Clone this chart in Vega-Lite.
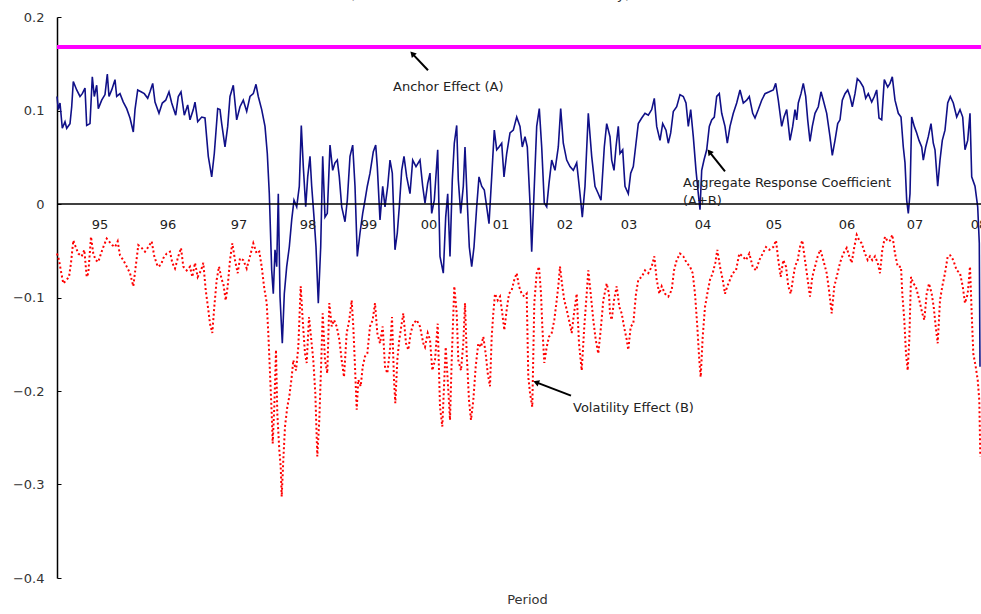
{
"$schema": "https://vega.github.io/schema/vega-lite/v6.json",
"width": 924, "height": 561,
"autosize": {"type": "none"},
"padding": {"left": 57, "top": 17, "right": 0, "bottom": 36},
"background": "white",
"config": {"view": {"stroke": null}, "font": "DejaVu Sans"},
"title": {"text": "(Effects of the Anchor and the Volatility)", "fontSize": 14, "fontWeight": "normal", "font": "DejaVu Sans", "color": "#333", "anchor": "middle", "frame": "group", "baseline": "alphabetic", "offset": 2, "dx": -29, "dy": 4},
"datasets": {
"anchor": [{"t":0,"v":0.168},{"t":924,"v":0.168}],
"zero": [{"t":0,"v":0},{"t":924,"v":0}],
"agg": [{"t":0,"v":0.115},{"t":1.3,"v":0.101},{"t":3,"v":0.108},{"t":5.3,"v":0.081},{"t":8,"v":0.088},{"t":9.7,"v":0.081},{"t":13,"v":0.086},{"t":14.7,"v":0.104},{"t":16.3,"v":0.131},{"t":19.7,"v":0.122},{"t":23,"v":0.115},{"t":25.3,"v":0.118},{"t":28,"v":0.124},{"t":29.7,"v":0.084},{"t":33,"v":0.086},{"t":35.3,"v":0.136},{"t":37.3,"v":0.115},{"t":39.7,"v":0.127},{"t":41.3,"v":0.102},{"t":44.7,"v":0.111},{"t":48,"v":0.117},{"t":50.3,"v":0.139},{"t":52,"v":0.115},{"t":54.7,"v":0.122},{"t":58,"v":0.133},{"t":59.7,"v":0.115},{"t":63,"v":0.118},{"t":66.3,"v":0.109},{"t":69.7,"v":0.102},{"t":73,"v":0.092},{"t":76.3,"v":0.077},{"t":78,"v":0.101},{"t":80.7,"v":0.122},{"t":84,"v":0.12},{"t":87.3,"v":0.118},{"t":90.7,"v":0.113},{"t":93,"v":0.12},{"t":95.7,"v":0.129},{"t":98,"v":0.109},{"t":102,"v":0.097},{"t":105.3,"v":0.108},{"t":108.7,"v":0.111},{"t":112,"v":0.12},{"t":114.7,"v":0.108},{"t":118.7,"v":0.095},{"t":121.3,"v":0.115},{"t":124,"v":0.12},{"t":127.3,"v":0.095},{"t":130.7,"v":0.106},{"t":133,"v":0.09},{"t":136.3,"v":0.101},{"t":138,"v":0.109},{"t":140.7,"v":0.088},{"t":144.7,"v":0.093},{"t":148,"v":0.092},{"t":151.3,"v":0.051},{"t":154.7,"v":0.029},{"t":157.3,"v":0.054},{"t":160.7,"v":0.102},{"t":163,"v":0.101},{"t":164.7,"v":0.086},{"t":168,"v":0.061},{"t":170.7,"v":0.083},{"t":173,"v":0.115},{"t":176.3,"v":0.127},{"t":179.7,"v":0.09},
{"t":183,"v":0.104},{"t":186.3,"v":0.111},{"t":189.7,"v":0.099},{"t":193,"v":0.115},{"t":196.3,"v":0.118},{"t":199,"v":0.128},{"t":201.3,"v":0.115},{"t":204.7,"v":0.101},{"t":208,"v":0.083},{"t":210.3,"v":0.054},{"t":212.3,"v":0.011},{"t":214.7,"v":-0.071},{"t":216.3,"v":-0.096},{"t":218,"v":-0.049},{"t":219.7,"v":-0.067},{"t":221.3,"v":0.011},{"t":223,"v":-0.099},{"t":225.3,"v":-0.149},{"t":227.3,"v":-0.096},{"t":229.7,"v":-0.067},{"t":232.3,"v":-0.046},{"t":234.7,"v":-0.017},{"t":237,"v":0.004},{"t":239.7,"v":-0.003},{"t":242.3,"v":0.019},{"t":244.3,"v":0.084},{"t":246.3,"v":0.04},{"t":248.7,"v":-0.003},{"t":250.7,"v":0.029},{"t":253,"v":0.051},{"t":254.7,"v":0.019},{"t":257,"v":-0.014},{"t":259,"v":-0.046},{"t":261.3,"v":-0.106},{"t":263.7,"v":-0.046},{"t":265.7,"v":0.051},{"t":268,"v":-0.014},{"t":270.3,"v":-0.01},{"t":273,"v":0.063},{"t":275.7,"v":0.036},{"t":278,"v":0.044},{"t":280.3,"v":0.047},{"t":282.3,"v":0.029},{"t":284.7,"v":-0.003},{"t":288,"v":-0.019},{"t":290.3,"v":0.004},{"t":293,"v":0.051},{"t":295.7,"v":0.063},{"t":298,"v":0.019},{"t":300.3,"v":-0.056},{"t":303,"v":-0.031},{"t":305.7,"v":-0.01},{"t":308,"v":0.004},{"t":310.3,"v":0.019},{"t":313,"v":0.033},{"t":316.3,"v":0.056},{"t":318.7,"v":0.063},{"t":320.3,"v":0.04},{"t":323,"v":-0.017},{"t":325.7,"v":0.019},{"t":328,"v":-0.003},{"t":330.7,"v":0.019},{"t":333,"v":0.047},{"t":335.3,"v":0.033},{"t":338,"v":-0.049},{"t":340.3,"v":-0.031},{"t":342.3,"v":-0.003},{"t":344.7,"v":0.036},{"t":347,"v":0.051},{"t":349.7,"v":0.029},{"t":353,"v":0.011},{"t":355.7,"v":0.047},{"t":359,"v":0.04},{"t":363,"v":0.047},{"t":365.7,"v":0.019},
{"t":368,"v":0.001},{"t":370.7,"v":0.022},{"t":373,"v":0.033},{"t":374.7,"v":-0.01},{"t":377.3,"v":0.004},{"t":380.7,"v":0.058},{"t":383,"v":-0.056},{"t":386.3,"v":-0.074},{"t":388.7,"v":-0.014},{"t":390.7,"v":0.011},{"t":393,"v":-0.056},{"t":395.3,"v":0.026},{"t":397.3,"v":0.065},{"t":399.7,"v":0.084},{"t":401.3,"v":0.026},{"t":403.7,"v":-0.01},{"t":406.3,"v":0.019},{"t":408,"v":0.061},{"t":410.3,"v":0.001},{"t":412.3,"v":-0.046},{"t":414.7,"v":-0.067},{"t":417,"v":-0.046},{"t":419.7,"v":-0.003},{"t":422,"v":0.029},{"t":424.7,"v":0.019},{"t":427.3,"v":0.015},{"t":429.7,"v":-0.003},{"t":432,"v":-0.021},{"t":434.7,"v":0.029},{"t":437.3,"v":0.079},{"t":439.7,"v":0.058},{"t":442,"v":0.061},{"t":444.7,"v":0.065},{"t":447,"v":0.029},{"t":449.7,"v":0.054},{"t":453,"v":0.076},{"t":456.3,"v":0.079},{"t":459.7,"v":0.093},{"t":463,"v":0.083},{"t":465.3,"v":0.061},{"t":468,"v":0.072},{"t":470.3,"v":0.061},{"t":473,"v":0.001},{"t":474.7,"v":-0.051},{"t":477.3,"v":0.019},{"t":479.7,"v":0.083},{"t":482.3,"v":0.102},{"t":484.7,"v":0.061},{"t":487.3,"v":0.001},{"t":489.7,"v":-0.003},{"t":492,"v":0.022},{"t":494.7,"v":0.047},{"t":498,"v":0.036},{"t":501.3,"v":0.061},{"t":503.7,"v":0.102},{"t":506.3,"v":0.065},{"t":509.7,"v":0.047},{"t":513,"v":0.04},{"t":516.3,"v":0.036},{"t":519.7,"v":0.044},{"t":523,"v":0.011},{"t":525.3,"v":-0.014},{"t":528,"v":0.019},{"t":531.3,"v":0.097},{"t":534.7,"v":0.051},{"t":538,"v":0.019},{"t":541.3,"v":0.011},{"t":544,"v":0.004},{"t":547.3,"v":0.061},{"t":549.7,"v":0.086},
{"t":553,"v":0.072},{"t":554.7,"v":0.047},{"t":557,"v":0.036},{"t":559,"v":0.061},{"t":561.3,"v":0.083},{"t":563,"v":0.054},{"t":565.7,"v":0.058},{"t":568,"v":0.019},{"t":571.3,"v":0.011},{"t":573.7,"v":0.033},{"t":576.3,"v":0.04},{"t":579,"v":0.065},{"t":581.3,"v":0.086},{"t":584.7,"v":0.092},{"t":588,"v":0.097},{"t":591.3,"v":0.095},{"t":594.7,"v":0.101},{"t":597.3,"v":0.113},{"t":599.7,"v":0.083},{"t":603,"v":0.068},{"t":605.7,"v":0.086},{"t":609,"v":0.079},{"t":611.3,"v":0.065},{"t":613.7,"v":0.076},{"t":616.3,"v":0.099},{"t":619.7,"v":0.104},{"t":623,"v":0.117},{"t":626.3,"v":0.115},{"t":629,"v":0.108},{"t":631.3,"v":0.083},{"t":633.7,"v":0.101},{"t":636.3,"v":0.072},{"t":639,"v":0.036},{"t":641.3,"v":0.011},{"t":643,"v":-0.006},{"t":644.7,"v":0.036},{"t":647,"v":0.047},{"t":649.7,"v":0.058},{"t":652.3,"v":0.083},{"t":654.7,"v":0.09},{"t":657.3,"v":0.093},{"t":659.7,"v":0.115},{"t":662.3,"v":0.118},{"t":664.7,"v":0.097},{"t":668,"v":0.083},{"t":670.3,"v":0.065},{"t":673,"v":0.083},{"t":676.3,"v":0.097},{"t":679.7,"v":0.108},{"t":683,"v":0.122},{"t":686.3,"v":0.108},{"t":689.7,"v":0.111},{"t":692.3,"v":0.115},{"t":695.7,"v":0.097},{"t":698,"v":0.092},{"t":701.3,"v":0.101},{"t":704.7,"v":0.111},{"t":708,"v":0.118},{"t":712.3,"v":0.12},{"t":716.3,"v":0.122},{"t":718.7,"v":0.129},{"t":721.3,"v":0.111},{"t":724.7,"v":0.083},{"t":727,"v":0.093},{"t":729.7,"v":0.101},{"t":733,"v":0.068},{"t":735.7,"v":0.083},
{"t":738,"v":0.101},{"t":739.7,"v":0.09},{"t":741.3,"v":0.108},{"t":744,"v":0.118},{"t":746.3,"v":0.129},{"t":748.7,"v":0.115},{"t":750.7,"v":0.09},{"t":753,"v":0.067},{"t":755.3,"v":0.083},{"t":758,"v":0.097},{"t":761.3,"v":0.104},{"t":764,"v":0.12},{"t":766.3,"v":0.111},{"t":769.7,"v":0.097},{"t":773,"v":0.072},{"t":775.3,"v":0.052},{"t":778,"v":0.068},{"t":780.7,"v":0.086},{"t":783,"v":0.09},{"t":785.3,"v":0.111},{"t":788,"v":0.118},{"t":790.7,"v":0.122},{"t":793,"v":0.115},{"t":795.3,"v":0.104},{"t":798,"v":0.118},{"t":800.3,"v":0.134},{"t":803,"v":0.131},{"t":806.3,"v":0.125},{"t":808.7,"v":0.113},{"t":811.3,"v":0.118},{"t":814.7,"v":0.109},{"t":817.3,"v":0.115},{"t":819.7,"v":0.122},{"t":822,"v":0.092},{"t":824.7,"v":0.09},{"t":827.3,"v":0.133},{"t":830.7,"v":0.125},{"t":833,"v":0.129},{"t":835.3,"v":0.136},{"t":838,"v":0.111},{"t":841.3,"v":0.097},{"t":844,"v":0.093},{"t":846.3,"v":0.061},{"t":848,"v":0.044},{"t":849.7,"v":0.004},{"t":851.3,"v":-0.01},{"t":853,"v":0.011},{"t":854.7,"v":0.093},{"t":857.3,"v":0.083},{"t":859.7,"v":0.076},{"t":862,"v":0.068},{"t":864.7,"v":0.061},{"t":866.3,"v":0.047},{"t":868.7,"v":0.061},{"t":871.3,"v":0.072},{"t":874,"v":0.086},{"t":876.3,"v":0.065},{"t":878,"v":0.058},{"t":880.7,"v":0.019},{"t":883,"v":0.047},{"t":885.3,"v":0.068},{"t":888,"v":0.079},{"t":890.7,"v":0.108},{"t":893.3,"v":0.115},{"t":896.3,"v":0.108},{"t":899.7,"v":0.093},{"t":903,"v":0.101},{"t":905.7,"v":0.093},{"t":908,"v":0.058},{"t":910.7,"v":0.068},{"t":913,"v":0.097},{"t":914.7,"v":0.029},{"t":918,"v":0.019},{"t":920.7,"v":-0.003},{"t":922.3,"v":-0.042},{"t":923,"v":-0.174}],
"vol": [{"t":0,"v":-0.053},{"t":2,"v":-0.06},{"t":4,"v":-0.072},{"t":6.3,"v":-0.085},{"t":9.7,"v":-0.081},{"t":12,"v":-0.078},{"t":14,"v":-0.063},{"t":16.3,"v":-0.039},{"t":18.7,"v":-0.046},{"t":21.3,"v":-0.053},{"t":24.7,"v":-0.056},{"t":27.3,"v":-0.049},{"t":29.7,"v":-0.078},{"t":31.3,"v":-0.074},{"t":34,"v":-0.035},{"t":36.3,"v":-0.053},{"t":38.7,"v":-0.06},{"t":41.3,"v":-0.062},{"t":44,"v":-0.053},{"t":46.3,"v":-0.046},{"t":49.7,"v":-0.037},{"t":52,"v":-0.04},{"t":55.3,"v":-0.044},{"t":58,"v":-0.046},{"t":60.7,"v":-0.04},{"t":63,"v":-0.055},{"t":66.3,"v":-0.06},{"t":69.7,"v":-0.067},{"t":73,"v":-0.074},{"t":76.3,"v":-0.088},{"t":78.7,"v":-0.067},{"t":81.3,"v":-0.044},{"t":84.7,"v":-0.047},{"t":88,"v":-0.051},{"t":91.3,"v":-0.046},{"t":94.7,"v":-0.04},{"t":97.3,"v":-0.056},{"t":100.7,"v":-0.067},{"t":104,"v":-0.065},{"t":106.3,"v":-0.058},{"t":109.7,"v":-0.053},{"t":113,"v":-0.051},{"t":115.3,"v":-0.063},{"t":118,"v":-0.069},{"t":121.3,"v":-0.056},{"t":124,"v":-0.047},{"t":126.3,"v":-0.067},{"t":129.7,"v":-0.071},{"t":133,"v":-0.067},{"t":135.3,"v":-0.078},{"t":138,"v":-0.063},{"t":140.7,"v":-0.078},{"t":144,"v":-0.071},{"t":146.3,"v":-0.063},{"t":148.7,"v":-0.092},{"t":151.3,"v":-0.113},{"t":153,"v":-0.128},{"t":155.3,"v":-0.138},{"t":157.3,"v":-0.11},{"t":159.7,"v":-0.081},{"t":162,"v":-0.067},{"t":164.7,"v":-0.081},{"t":166.3,"v":-0.085},{"t":168.7,"v":-0.103},{"t":170.7,"v":-0.088},{"t":173,"v":-0.06},{"t":175.3,"v":-0.042},{"t":178,"v":-0.06},{"t":180.7,"v":-0.074},
{"t":183,"v":-0.058},{"t":186.3,"v":-0.06},{"t":189.7,"v":-0.069},{"t":193,"v":-0.056},{"t":196.3,"v":-0.042},{"t":199.7,"v":-0.053},{"t":202.3,"v":-0.051},{"t":204.7,"v":-0.067},{"t":207,"v":-0.088},{"t":209.7,"v":-0.106},{"t":211.3,"v":-0.138},{"t":213,"v":-0.181},{"t":214.7,"v":-0.224},{"t":215.7,"v":-0.256},{"t":217.3,"v":-0.217},{"t":219,"v":-0.156},{"t":220.3,"v":-0.224},{"t":222.3,"v":-0.263},{"t":223.7,"v":-0.281},{"t":224.7,"v":-0.313},{"t":226.3,"v":-0.274},{"t":228,"v":-0.238},{"t":230.3,"v":-0.217},{"t":232.3,"v":-0.206},{"t":234.7,"v":-0.185},{"t":236.3,"v":-0.167},{"t":239,"v":-0.178},{"t":241.3,"v":-0.153},{"t":243.7,"v":-0.088},{"t":245.7,"v":-0.124},{"t":248,"v":-0.16},{"t":249.7,"v":-0.17},{"t":252,"v":-0.121},{"t":254,"v":-0.142},{"t":256.3,"v":-0.167},{"t":258.3,"v":-0.202},{"t":260.3,"v":-0.27},{"t":262.3,"v":-0.231},{"t":264.3,"v":-0.167},{"t":265.7,"v":-0.117},{"t":268,"v":-0.167},{"t":270.3,"v":-0.181},{"t":272.3,"v":-0.106},{"t":274.7,"v":-0.131},{"t":277,"v":-0.124},{"t":279.7,"v":-0.131},{"t":282.3,"v":-0.145},{"t":284.7,"v":-0.167},{"t":287,"v":-0.185},{"t":289.7,"v":-0.138},{"t":292.3,"v":-0.124},{"t":294.7,"v":-0.103},{"t":296.3,"v":-0.131},{"t":298,"v":-0.174},{"t":299.7,"v":-0.22},{"t":301.3,"v":-0.188},{"t":303.7,"v":-0.195},{"t":305.7,"v":-0.174},{"t":308,"v":-0.163},{"t":310.3,"v":-0.16},{"t":313,"v":-0.131},{"t":315.7,"v":-0.124},{"t":318,"v":-0.106},{"t":320.3,"v":-0.138},{"t":323,"v":-0.149},{"t":325.7,"v":-0.131},{"t":328,"v":-0.174},{"t":330.3,"v":-0.181},{"t":333,"v":-0.156},{"t":335,"v":-0.121},{"t":337,"v":-0.188},{"t":338.3,"v":-0.213},{"t":340.3,"v":-0.167},{"t":342.3,"v":-0.145},{"t":344.7,"v":-0.128},{"t":346.3,"v":-0.117},{"t":349,"v":-0.149},{"t":351.3,"v":-0.156},{"t":353.7,"v":-0.138},{"t":356.3,"v":-0.128},{"t":359.7,"v":-0.124},{"t":363,"v":-0.131},{"t":366.3,"v":-0.149},
{"t":368,"v":-0.153},{"t":370.7,"v":-0.138},{"t":373,"v":-0.145},{"t":375.3,"v":-0.178},{"t":378,"v":-0.167},{"t":380.7,"v":-0.128},{"t":383,"v":-0.217},{"t":385.3,"v":-0.238},{"t":387.3,"v":-0.188},{"t":388.7,"v":-0.153},{"t":390.7,"v":-0.188},{"t":393,"v":-0.231},{"t":394.7,"v":-0.167},{"t":397.3,"v":-0.088},{"t":399.7,"v":-0.117},{"t":401.3,"v":-0.167},{"t":404,"v":-0.178},{"t":406.3,"v":-0.149},{"t":408,"v":-0.106},{"t":409.7,"v":-0.16},{"t":412,"v":-0.21},{"t":414,"v":-0.231},{"t":416.3,"v":-0.21},{"t":418.7,"v":-0.174},{"t":421.3,"v":-0.149},{"t":424,"v":-0.153},{"t":426.3,"v":-0.142},{"t":428.7,"v":-0.16},{"t":430.7,"v":-0.181},{"t":433,"v":-0.195},{"t":434.7,"v":-0.142},{"t":436.3,"v":-0.117},{"t":438,"v":-0.096},{"t":440.7,"v":-0.103},{"t":443,"v":-0.099},{"t":445.3,"v":-0.117},{"t":447.3,"v":-0.135},{"t":449.7,"v":-0.113},{"t":452,"v":-0.096},{"t":454.7,"v":-0.092},{"t":457.3,"v":-0.081},{"t":459.7,"v":-0.074},{"t":462,"v":-0.088},{"t":464.7,"v":-0.096},{"t":467.3,"v":-0.099},{"t":469.7,"v":-0.096},{"t":471.3,"v":-0.185},{"t":473,"v":-0.202},{"t":475.3,"v":-0.217},{"t":477.3,"v":-0.106},{"t":479.7,"v":-0.074},{"t":482,"v":-0.067},{"t":484,"v":-0.096},{"t":485.3,"v":-0.131},{"t":487.3,"v":-0.17},{"t":489.7,"v":-0.153},{"t":492,"v":-0.142},{"t":494.7,"v":-0.138},{"t":497.3,"v":-0.124},{"t":499.7,"v":-0.103},{"t":501.3,"v":-0.088},{"t":503,"v":-0.067},{"t":505.3,"v":-0.088},{"t":507.3,"v":-0.103},{"t":509.7,"v":-0.113},{"t":512,"v":-0.124},{"t":514.7,"v":-0.138},{"t":517,"v":-0.117},{"t":519.7,"v":-0.096},{"t":522,"v":-0.149},{"t":524.7,"v":-0.178},{"t":527.3,"v":-0.131},{"t":529.7,"v":-0.096},{"t":531.3,"v":-0.071},{"t":533.7,"v":-0.096},{"t":536.3,"v":-0.124},{"t":538.7,"v":-0.145},{"t":541.3,"v":-0.16},{"t":544,"v":-0.131},{"t":546.3,"v":-0.103},{"t":549.7,"v":-0.085},{"t":552,"v":-0.096},
{"t":553,"v":-0.117},{"t":554.7,"v":-0.124},{"t":557,"v":-0.103},{"t":559.7,"v":-0.088},{"t":562.3,"v":-0.11},{"t":564.7,"v":-0.117},{"t":567,"v":-0.131},{"t":569.7,"v":-0.145},{"t":571.3,"v":-0.156},{"t":573.7,"v":-0.131},{"t":576.3,"v":-0.128},{"t":579,"v":-0.096},{"t":581.3,"v":-0.081},{"t":584.7,"v":-0.078},{"t":588,"v":-0.071},{"t":591.3,"v":-0.074},{"t":594.7,"v":-0.067},{"t":597.3,"v":-0.056},{"t":599.7,"v":-0.081},{"t":602.3,"v":-0.096},{"t":604.7,"v":-0.088},{"t":608,"v":-0.096},{"t":611.3,"v":-0.099},{"t":614.7,"v":-0.092},{"t":617,"v":-0.071},{"t":619.7,"v":-0.06},{"t":623,"v":-0.053},{"t":626.3,"v":-0.056},{"t":629.7,"v":-0.063},{"t":633,"v":-0.067},{"t":635.7,"v":-0.074},{"t":638,"v":-0.096},{"t":640.3,"v":-0.131},{"t":642.3,"v":-0.167},{"t":643.7,"v":-0.185},{"t":645.7,"v":-0.142},{"t":648,"v":-0.11},{"t":650.3,"v":-0.096},{"t":653,"v":-0.081},{"t":655.7,"v":-0.074},{"t":658.3,"v":-0.063},{"t":660.3,"v":-0.049},{"t":663,"v":-0.067},{"t":665.7,"v":-0.081},{"t":668,"v":-0.096},{"t":670.3,"v":-0.088},{"t":673,"v":-0.081},{"t":675.7,"v":-0.074},{"t":679,"v":-0.071},{"t":682.3,"v":-0.053},{"t":685.7,"v":-0.056},{"t":689,"v":-0.06},{"t":692.3,"v":-0.053},{"t":695.7,"v":-0.067},{"t":699,"v":-0.071},{"t":702.3,"v":-0.06},{"t":705.7,"v":-0.053},{"t":709,"v":-0.046},{"t":712.3,"v":-0.049},{"t":716.3,"v":-0.046},{"t":719,"v":-0.039},{"t":721.3,"v":-0.06},{"t":723.7,"v":-0.078},{"t":726.3,"v":-0.06},{"t":729,"v":-0.067},{"t":731.3,"v":-0.088},{"t":733.7,"v":-0.096},{"t":736.3,"v":-0.078},
{"t":738,"v":-0.067},{"t":740.7,"v":-0.06},{"t":743,"v":-0.046},{"t":745.3,"v":-0.039},{"t":748,"v":-0.06},{"t":750.7,"v":-0.081},{"t":753,"v":-0.099},{"t":755.3,"v":-0.078},{"t":758,"v":-0.067},{"t":760.7,"v":-0.056},{"t":763.3,"v":-0.049},{"t":766.3,"v":-0.06},{"t":769.7,"v":-0.074},{"t":772,"v":-0.092},{"t":774.7,"v":-0.117},{"t":777.3,"v":-0.088},{"t":779.7,"v":-0.078},{"t":783,"v":-0.063},{"t":786.3,"v":-0.053},{"t":789.7,"v":-0.047},{"t":792.3,"v":-0.056},{"t":794.7,"v":-0.063},{"t":797.3,"v":-0.046},{"t":799.7,"v":-0.033},{"t":802.3,"v":-0.039},{"t":804.7,"v":-0.042},{"t":808,"v":-0.053},{"t":810.7,"v":-0.06},{"t":813,"v":-0.056},{"t":815.3,"v":-0.06},{"t":818,"v":-0.056},{"t":820.7,"v":-0.063},{"t":823,"v":-0.074},{"t":825.3,"v":-0.049},{"t":828,"v":-0.035},{"t":830.7,"v":-0.04},{"t":833,"v":-0.039},{"t":835.3,"v":-0.033},{"t":838,"v":-0.053},{"t":840.7,"v":-0.067},{"t":844,"v":-0.067},{"t":845.3,"v":-0.096},{"t":847.3,"v":-0.124},{"t":849,"v":-0.16},{"t":850.7,"v":-0.178},{"t":852.3,"v":-0.145},{"t":854,"v":-0.078},{"t":856.3,"v":-0.085},{"t":858.7,"v":-0.088},{"t":860.7,"v":-0.096},{"t":863,"v":-0.106},{"t":865.3,"v":-0.117},{"t":867.3,"v":-0.124},{"t":869.7,"v":-0.096},{"t":872,"v":-0.085},{"t":874.7,"v":-0.096},{"t":876.7,"v":-0.11},{"t":878.7,"v":-0.131},{"t":880.7,"v":-0.149},{"t":883,"v":-0.103},{"t":885.3,"v":-0.088},{"t":888,"v":-0.074},{"t":890.7,"v":-0.056},{"t":893.3,"v":-0.055},{"t":896.3,"v":-0.06},{"t":899.7,"v":-0.071},{"t":903,"v":-0.074},{"t":905.7,"v":-0.088},{"t":908,"v":-0.106},{"t":910.7,"v":-0.096},{"t":913,"v":-0.067},{"t":914.7,"v":-0.117},{"t":916.3,"v":-0.16},{"t":918.7,"v":-0.174},{"t":920.7,"v":-0.188},{"t":922.3,"v":-0.21},{"t":923.3,"v":-0.27}],
"years": [{"t":43,"v":0,"label":"95"},{"t":111,"v":0,"label":"96"},{"t":182,"v":0,"label":"97"},{"t":251,"v":0,"label":"98"},{"t":312,"v":0,"label":"99"},{"t":372,"v":0,"label":"00"},{"t":444,"v":0,"label":"01"},{"t":508,"v":0,"label":"02"},{"t":572,"v":0,"label":"03"},{"t":646,"v":0,"label":"04"},{"t":717,"v":0,"label":"05"},{"t":790,"v":0,"label":"06"},{"t":858,"v":0,"label":"07"},{"t":922,"v":0,"label":"08"}],
"notes": [{"t":336,"v":0.125,"label":"Anchor Effect (A)"},{"t":626,"v":0.022,"label":"Aggregate Response Coefficient"},{"t":626,"v":0.003,"label":"(A+B)"},{"t":516,"v":-0.218,"label":"Volatility Effect (B)"}],
"arrows": [{"t":371,"v":0.143,"t2":356,"v2":0.16,"a":-43},{"t":668,"v":0.035,"t2":653,"v2":0.055,"a":-38},{"t":514,"v":-0.205,"t2":480,"v2":-0.191,"a":-69}]
},
"encoding": {
  "x": {"field": "t", "type": "quantitative", "scale": {"domain": [0, 924], "nice": false, "zero": false},
        "axis": {"title": "Period", "domain": false, "ticks": false, "labels": false, "grid": false, "titleFont": "DejaVu Sans", "titleFontSize": 13, "titleFontWeight": "normal", "titleColor": "#333", "titlePadding": 15, "titleX": 470}},
  "y": {"field": "v", "type": "quantitative", "scale": {"domain": [-0.4, 0.2], "nice": false, "zero": false},
        "axis": {"title": null, "values": [-0.4, -0.3, -0.2, -0.1, 0, 0.1, 0.2], "format": ".1~f", "grid": false, "domainColor": "black", "domainWidth": 1.5, "tickColor": "black", "tickSize": -4, "labelPadding": 17, "labelFont": "DejaVu Sans", "labelFontSize": 13, "labelColor": "#333"}}
},
"layer": [
  {"data": {"name": "anchor"}, "mark": {"type": "line", "color": "#FF00FF", "strokeWidth": 4}},
  {"data": {"name": "vol"}, "mark": {"type": "line", "color": "#FF0000", "strokeWidth": 2, "strokeDash": [2, 2.5]}},
  {"data": {"name": "agg"}, "mark": {"type": "line", "color": "#101088", "strokeWidth": 1.6}},
  {"data": {"name": "zero"}, "mark": {"type": "line", "color": "black", "strokeWidth": 1.5}},
  {"data": {"name": "years"}, "mark": {"type": "text", "dy": 21, "fontSize": 13, "color": "#222", "font": "DejaVu Sans", "align": "center", "baseline": "middle"}, "encoding": {"text": {"field": "label"}}},
  {"data": {"name": "notes"}, "mark": {"type": "text", "fontSize": 13, "color": "#222", "font": "DejaVu Sans", "align": "left", "baseline": "middle"}, "encoding": {"text": {"field": "label"}}},
  {"data": {"name": "arrows"}, "mark": {"type": "rule", "color": "black", "strokeWidth": 2}, "encoding": {"x2": {"field": "t2"}, "y2": {"field": "v2"}}},
  {"data": {"name": "arrows"}, "mark": {"type": "point", "shape": "triangle", "filled": true, "color": "black", "opacity": 1, "size": 45}, "encoding": {"x": {"field": "t2", "type": "quantitative"}, "y": {"field": "v2", "type": "quantitative"}, "angle": {"field": "a", "type": "quantitative", "scale": null}}}
]
}
